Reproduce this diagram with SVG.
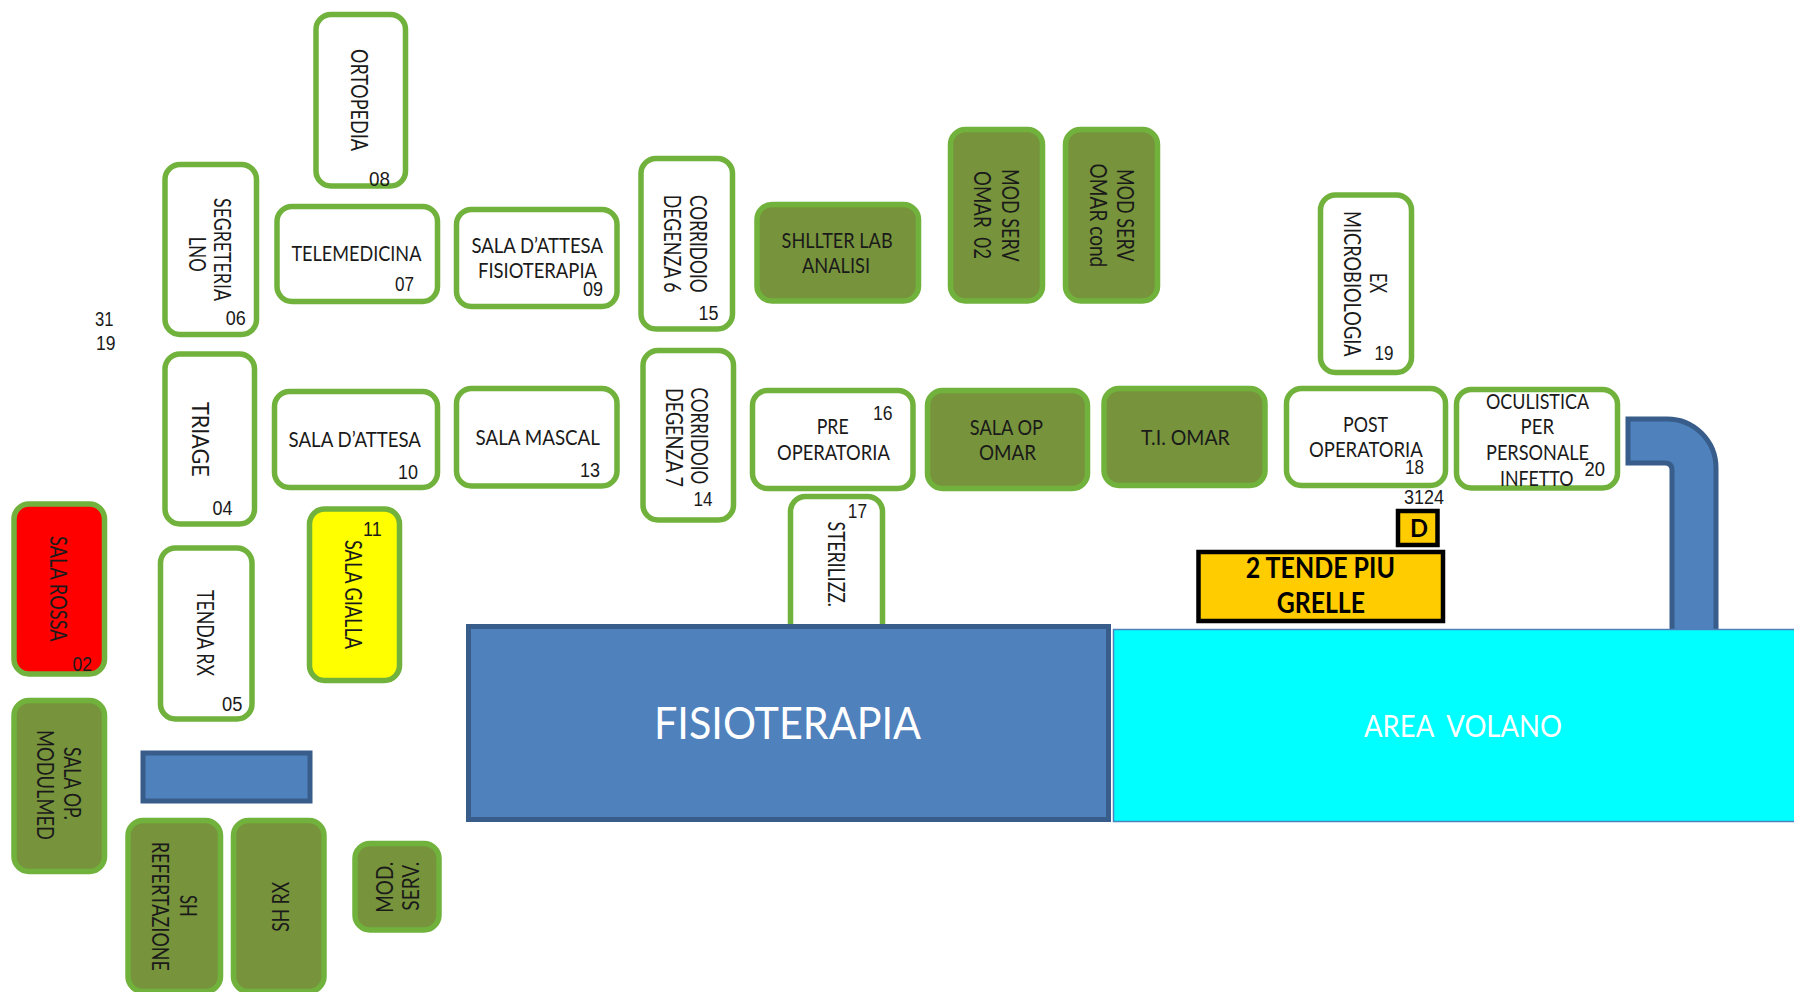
<svg xmlns="http://www.w3.org/2000/svg" width="1794" height="992" viewBox="0 0 1794 992">
<style>
rect.r{stroke:#70b23c;stroke-width:5.500;rx:15px;ry:15px}
.w{fill:#fff}.o{fill:#77933c}.bl{fill:#4f81bd;stroke:#385d8a;stroke-width:5}
text{fill:#1a1a1a;font-family:"Lato","Liberation Sans",sans-serif;font-size:21px}
.v{font-size:23px}
.n{font-family:"Liberation Sans",Arial,sans-serif;font-size:20px}
.b{font-weight:700;fill:#000}
</style>
<rect width="1794" height="992" fill="#fff"/>
<g id="connectors"/>
<g id="ortopedia"><rect class="r w" x="316" y="14.500" width="89.500" height="171.500"/><text class="v" transform="translate(351 49) rotate(90)" textLength="102" lengthAdjust="spacingAndGlyphs">ORTOPEDIA</text><text class="n" x="369" y="186" textLength="21" lengthAdjust="spacingAndGlyphs">08</text></g>
<g id="segreteria"><rect class="r w" x="165" y="164.500" width="91.500" height="170"/><text class="v" transform="translate(213.500 198) rotate(90)" textLength="103" lengthAdjust="spacingAndGlyphs">SEGRETERIA</text><text class="v" transform="translate(189 236.700) rotate(90)" textLength="35" lengthAdjust="spacingAndGlyphs">LNO</text><text class="n" x="225.700" y="324.500" textLength="20" lengthAdjust="spacingAndGlyphs">06</text></g>
<g id="telemedicina"><rect class="r w" x="277" y="206.500" width="160.500" height="95"/><text x="291.400" y="261" textLength="130" lengthAdjust="spacingAndGlyphs">TELEMEDICINA</text><text class="n" x="395" y="291" textLength="19" lengthAdjust="spacingAndGlyphs">07</text></g>
<g id="attesa-fisio"><rect class="r w" x="456.500" y="209.500" width="160.500" height="97"/><text x="471.400" y="253" textLength="131.600" lengthAdjust="spacingAndGlyphs">SALA D’ATTESA</text><text x="478" y="278" textLength="119" lengthAdjust="spacingAndGlyphs">FISIOTERAPIA</text><text class="n" x="583" y="296" textLength="20" lengthAdjust="spacingAndGlyphs">09</text></g>
<g id="corridoio-6"><rect class="r w" x="641" y="158.500" width="91.500" height="170.500"/><text class="v" transform="translate(690 195) rotate(90)" textLength="97.700" lengthAdjust="spacingAndGlyphs">CORRIDOIO</text><text class="v" transform="translate(664 194.700) rotate(90)" textLength="98" lengthAdjust="spacingAndGlyphs">DEGENZA 6</text><text class="n" x="698.400" y="320.400" textLength="20" lengthAdjust="spacingAndGlyphs">15</text></g>
<g id="shelter"><rect class="r o" x="757" y="204.500" width="161.500" height="96.500"/><text x="781.600" y="248" textLength="111" lengthAdjust="spacingAndGlyphs">SHLLTER LAB</text><text x="802" y="273" textLength="68" lengthAdjust="spacingAndGlyphs">ANALISI</text></g>
<g id="mod-serv-02"><rect class="r o" x="950.500" y="129.500" width="92" height="171.500"/><text class="v" transform="translate(1001.600 169) rotate(90)" textLength="92.600" lengthAdjust="spacingAndGlyphs">MOD SERV</text><text class="v" transform="translate(974 171) rotate(90)" textLength="88" xml:space="preserve" lengthAdjust="spacingAndGlyphs">OMAR  02</text></g>
<g id="mod-serv-cond"><rect class="r o" x="1065.500" y="129.500" width="92" height="171.500"/><text class="v" transform="translate(1117 169) rotate(90)" textLength="92.600" lengthAdjust="spacingAndGlyphs">MOD SERV</text><text class="v" transform="translate(1090 163.600) rotate(90)" textLength="103.700" lengthAdjust="spacingAndGlyphs">OMAR cond</text></g>
<g id="ex-microbiologia"><rect class="r w" x="1320.500" y="195" width="91" height="177.500"/><text class="v" transform="translate(1370 273) rotate(90)" textLength="20" lengthAdjust="spacingAndGlyphs">EX</text><text class="v" transform="translate(1343.700 211) rotate(90)" textLength="145.700" lengthAdjust="spacingAndGlyphs">MICROBIOLOGIA</text><text class="n" x="1374.600" y="360" textLength="19" lengthAdjust="spacingAndGlyphs">19</text></g>
<g id="triage"><rect class="r w" x="165" y="354" width="89.500" height="170"/><text class="v" transform="translate(192 402) rotate(90)" textLength="74.700" lengthAdjust="spacingAndGlyphs">TRIAGE</text><text class="n" x="212.600" y="514.500" textLength="20" lengthAdjust="spacingAndGlyphs">04</text></g>
<g id="sala-attesa"><rect class="r w" x="274.500" y="391.500" width="163" height="96"/><text x="288.600" y="447" textLength="132.400" lengthAdjust="spacingAndGlyphs">SALA D’ATTESA</text><text class="n" x="398" y="479.400" textLength="20" lengthAdjust="spacingAndGlyphs">10</text></g>
<g id="sala-mascal"><rect class="r w" x="456.500" y="388.500" width="160.500" height="97.500"/><text x="475.500" y="445" textLength="124.500" lengthAdjust="spacingAndGlyphs">SALA MASCAL</text><text class="n" x="580" y="476.700" textLength="20" lengthAdjust="spacingAndGlyphs">13</text></g>
<g id="corridoio-7"><rect class="r w" x="643" y="350.500" width="90.500" height="169.500"/><text class="v" transform="translate(691.400 387.400) rotate(90)" textLength="97" lengthAdjust="spacingAndGlyphs">CORRIDOIO</text><text class="v" transform="translate(665.700 388) rotate(90)" textLength="99" lengthAdjust="spacingAndGlyphs">DEGENZA 7</text><text class="n" x="693.500" y="505.700" textLength="19" lengthAdjust="spacingAndGlyphs">14</text></g>
<g id="pre-operatoria"><rect class="r w" x="752.500" y="390.500" width="160.500" height="98"/><text x="816.700" y="434" textLength="32" lengthAdjust="spacingAndGlyphs">PRE</text><text x="777" y="460" textLength="112.800" lengthAdjust="spacingAndGlyphs">OPERATORIA</text><text class="n" x="873" y="419.500" textLength="19.600" lengthAdjust="spacingAndGlyphs">16</text></g>
<g id="sala-op-omar"><rect class="r o" x="927.500" y="390.500" width="160" height="98"/><text x="969.800" y="434.700" textLength="73.200" lengthAdjust="spacingAndGlyphs">SALA OP</text><text x="979" y="460" textLength="57" lengthAdjust="spacingAndGlyphs">OMAR</text></g>
<g id="ti-omar"><rect class="r o" x="1104" y="388.500" width="161" height="97"/><text x="1141" y="444.800" textLength="88.800" lengthAdjust="spacingAndGlyphs">T.I. OMAR</text></g>
<g id="post-operatoria"><rect class="r w" x="1286.500" y="388.500" width="159" height="97"/><text x="1343" y="431.700" textLength="45" lengthAdjust="spacingAndGlyphs">POST</text><text x="1309" y="457" textLength="113.800" lengthAdjust="spacingAndGlyphs">OPERATORIA</text><text class="n" x="1405" y="474" textLength="19" lengthAdjust="spacingAndGlyphs">18</text></g>
<g id="oculistica"><rect class="r w" x="1456.500" y="389.500" width="161" height="98.500"/><text x="1486" y="408.700" textLength="103" lengthAdjust="spacingAndGlyphs">OCULISTICA</text><text x="1520.600" y="434" textLength="33.400" lengthAdjust="spacingAndGlyphs">PER</text><text x="1486" y="460" textLength="103" lengthAdjust="spacingAndGlyphs">PERSONALE</text><text x="1500" y="485.700" textLength="73.500" lengthAdjust="spacingAndGlyphs">INFETTO</text><text class="n" x="1584.500" y="475.700" textLength="20.500" lengthAdjust="spacingAndGlyphs">20</text></g>
<g id="sala-rossa"><rect class="r" fill="#ff0000" x="14" y="504" width="90.500" height="170"/><text class="v" transform="translate(50 536) rotate(90)" textLength="105.700" lengthAdjust="spacingAndGlyphs">SALA ROSSA</text><text class="n" x="72.600" y="670.700" textLength="19.400" lengthAdjust="spacingAndGlyphs">02</text></g>
<g id="tenda-rx"><rect class="r w" x="160.500" y="548" width="91.500" height="171"/><text class="v" transform="translate(197 590) rotate(90)" textLength="86" lengthAdjust="spacingAndGlyphs">TENDA RX</text><text class="n" x="222" y="710.700" textLength="20.400" lengthAdjust="spacingAndGlyphs">05</text></g>
<g id="sala-gialla"><rect class="r" fill="#ffff00" x="309.500" y="509" width="90" height="171.500"/><text class="v" transform="translate(345 540) rotate(90)" textLength="109" lengthAdjust="spacingAndGlyphs">SALA GIALLA</text><text class="n" x="363" y="536" textLength="18.600" lengthAdjust="spacingAndGlyphs">11</text></g>
<g id="sala-op-modulmed"><rect class="r o" x="14" y="700.500" width="90.500" height="171"/><text class="v" transform="translate(64 747) rotate(90)" textLength="73" lengthAdjust="spacingAndGlyphs">SALA OP.</text><text class="v" transform="translate(36.700 730) rotate(90)" textLength="110" lengthAdjust="spacingAndGlyphs">MODULMED</text></g>
<g id="blue-block"><rect class="bl" x="143" y="753" width="167" height="48"/></g>
<g id="sh-refertazione"><rect class="r o" x="128" y="820.500" width="92.500" height="171"/><text class="v" transform="translate(179.600 895) rotate(90)" textLength="21.700" lengthAdjust="spacingAndGlyphs">SH</text><text class="v" transform="translate(151.800 841.700) rotate(90)" textLength="129.300" lengthAdjust="spacingAndGlyphs">REFERTAZIONE</text></g>
<g id="sh-rx"><rect class="r o" x="233.500" y="820.500" width="90.500" height="171"/><text class="v" transform="translate(288.600 931.700) rotate(-90)" textLength="50" lengthAdjust="spacingAndGlyphs">SH RX</text></g>
<g id="mod-serv"><rect class="r o" x="355" y="843.500" width="84" height="86.500"/><text class="v" transform="translate(392.600 912.700) rotate(-90)" textLength="51" lengthAdjust="spacingAndGlyphs">MOD.</text><text class="v" transform="translate(419 910.700) rotate(-90)" textLength="49" lengthAdjust="spacingAndGlyphs">SERV.</text></g>
<g id="sterilizz"><rect class="r w" x="790.500" y="496.500" width="92" height="145"/><text class="v" transform="translate(828 521.600) rotate(90)" textLength="85.400" lengthAdjust="spacingAndGlyphs">STERILIZZ.</text><text class="n" x="847.800" y="518" textLength="19.200" lengthAdjust="spacingAndGlyphs">17</text></g>
<g id="fisioterapia"><rect class="bl" x="468.500" y="626.500" width="640" height="193"/><text x="654" y="739" style="font-size:44px;fill:#fff" textLength="267" lengthAdjust="spacingAndGlyphs">FISIOTERAPIA</text></g>
<g id="pipe"><path class="bl" d="M1628 419H1667A49 49 0 0 1 1716 468V632H1672V470Q1672 463 1665 463H1628Z"/></g>
<g id="area-volano"><rect x="1113.500" y="629.500" width="690" height="192" fill="#00ffff" stroke="#4f81bd" stroke-width="1.500"/><text x="1364" y="737" style="font-size:30px;fill:#fff" textLength="198" xml:space="preserve" lengthAdjust="spacingAndGlyphs">AREA  VOLANO</text></g>
<g id="tende"><rect x="1198.500" y="552" width="244.500" height="69" fill="#ffcc00" stroke="#000" stroke-width="4.500"/><text class="b" x="1245.800" y="578" style="font-size:28px" textLength="149.200" lengthAdjust="spacingAndGlyphs">2 TENDE PIU</text><text class="b" x="1276.700" y="613" style="font-size:28px" textLength="88.300" lengthAdjust="spacingAndGlyphs">GRELLE</text></g>
<g id="d"><rect x="1398" y="511" width="39.500" height="34" fill="#ffcc00" stroke="#000" stroke-width="4.500"/><text class="b" x="1410" y="536.700" style="font-size:25px" textLength="18" lengthAdjust="spacingAndGlyphs">D</text></g>
<g id="labels"><text class="n" x="95" y="326" textLength="18.500" lengthAdjust="spacingAndGlyphs">31</text><text class="n" x="96" y="350" textLength="19.500" lengthAdjust="spacingAndGlyphs">19</text><text class="n" x="1404" y="504" textLength="40" lengthAdjust="spacingAndGlyphs">3124</text></g>
</svg>
